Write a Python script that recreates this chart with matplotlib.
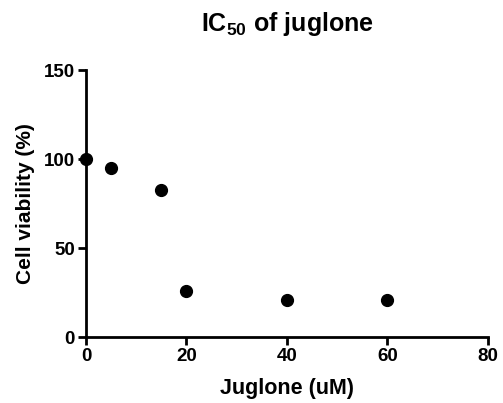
import matplotlib.pyplot as plt

plt.rcParams['font.family'] = ['Liberation Sans', 'DejaVu Sans']
plt.rcParams['font.weight'] = 'bold'
plt.rcParams['mathtext.fontset'] = 'custom'
plt.rcParams['mathtext.rm'] = 'Liberation Sans'
plt.rcParams['mathtext.default'] = 'rm'

concentration = [0, 5, 15, 20, 40, 60]
viability = [100, 95.3, 82.8, 25.8, 20.8, 20.8]

fig = plt.figure(figsize=(5.03, 4.03), dpi=100)
ax = fig.add_axes([0.171, 0.163, 0.799, 0.663])

ax.plot(concentration, viability, 'o', color='black', markersize=8.5, clip_on=False, zorder=3)

ax.set_xlim(0, 80)
ax.set_ylim(0, 150)
ax.set_xticks([0, 20, 40, 60, 80])
ax.set_yticks([0, 50, 100, 150])

for side in ['top', 'right']:
    ax.spines[side].set_visible(False)
for side in ['left', 'bottom']:
    ax.spines[side].set_linewidth(2)

ax.tick_params(width=2, length=6, labelsize=13.5, pad=2)
for lab in ax.get_xticklabels() + ax.get_yticklabels():
    lab.set_fontweight('bold')

ax.set_xlabel('Juglone (uM)', fontsize=15.5, fontweight='bold', labelpad=9)
ax.set_ylabel('Cell viability (%)', fontsize=15, fontweight='bold', labelpad=6)
fig.text(0.571, 0.94, r'IC$_{50}$ of juglone', ha='center', va='center',
         fontsize=18, fontweight='bold')

fig.savefig('out.png')
